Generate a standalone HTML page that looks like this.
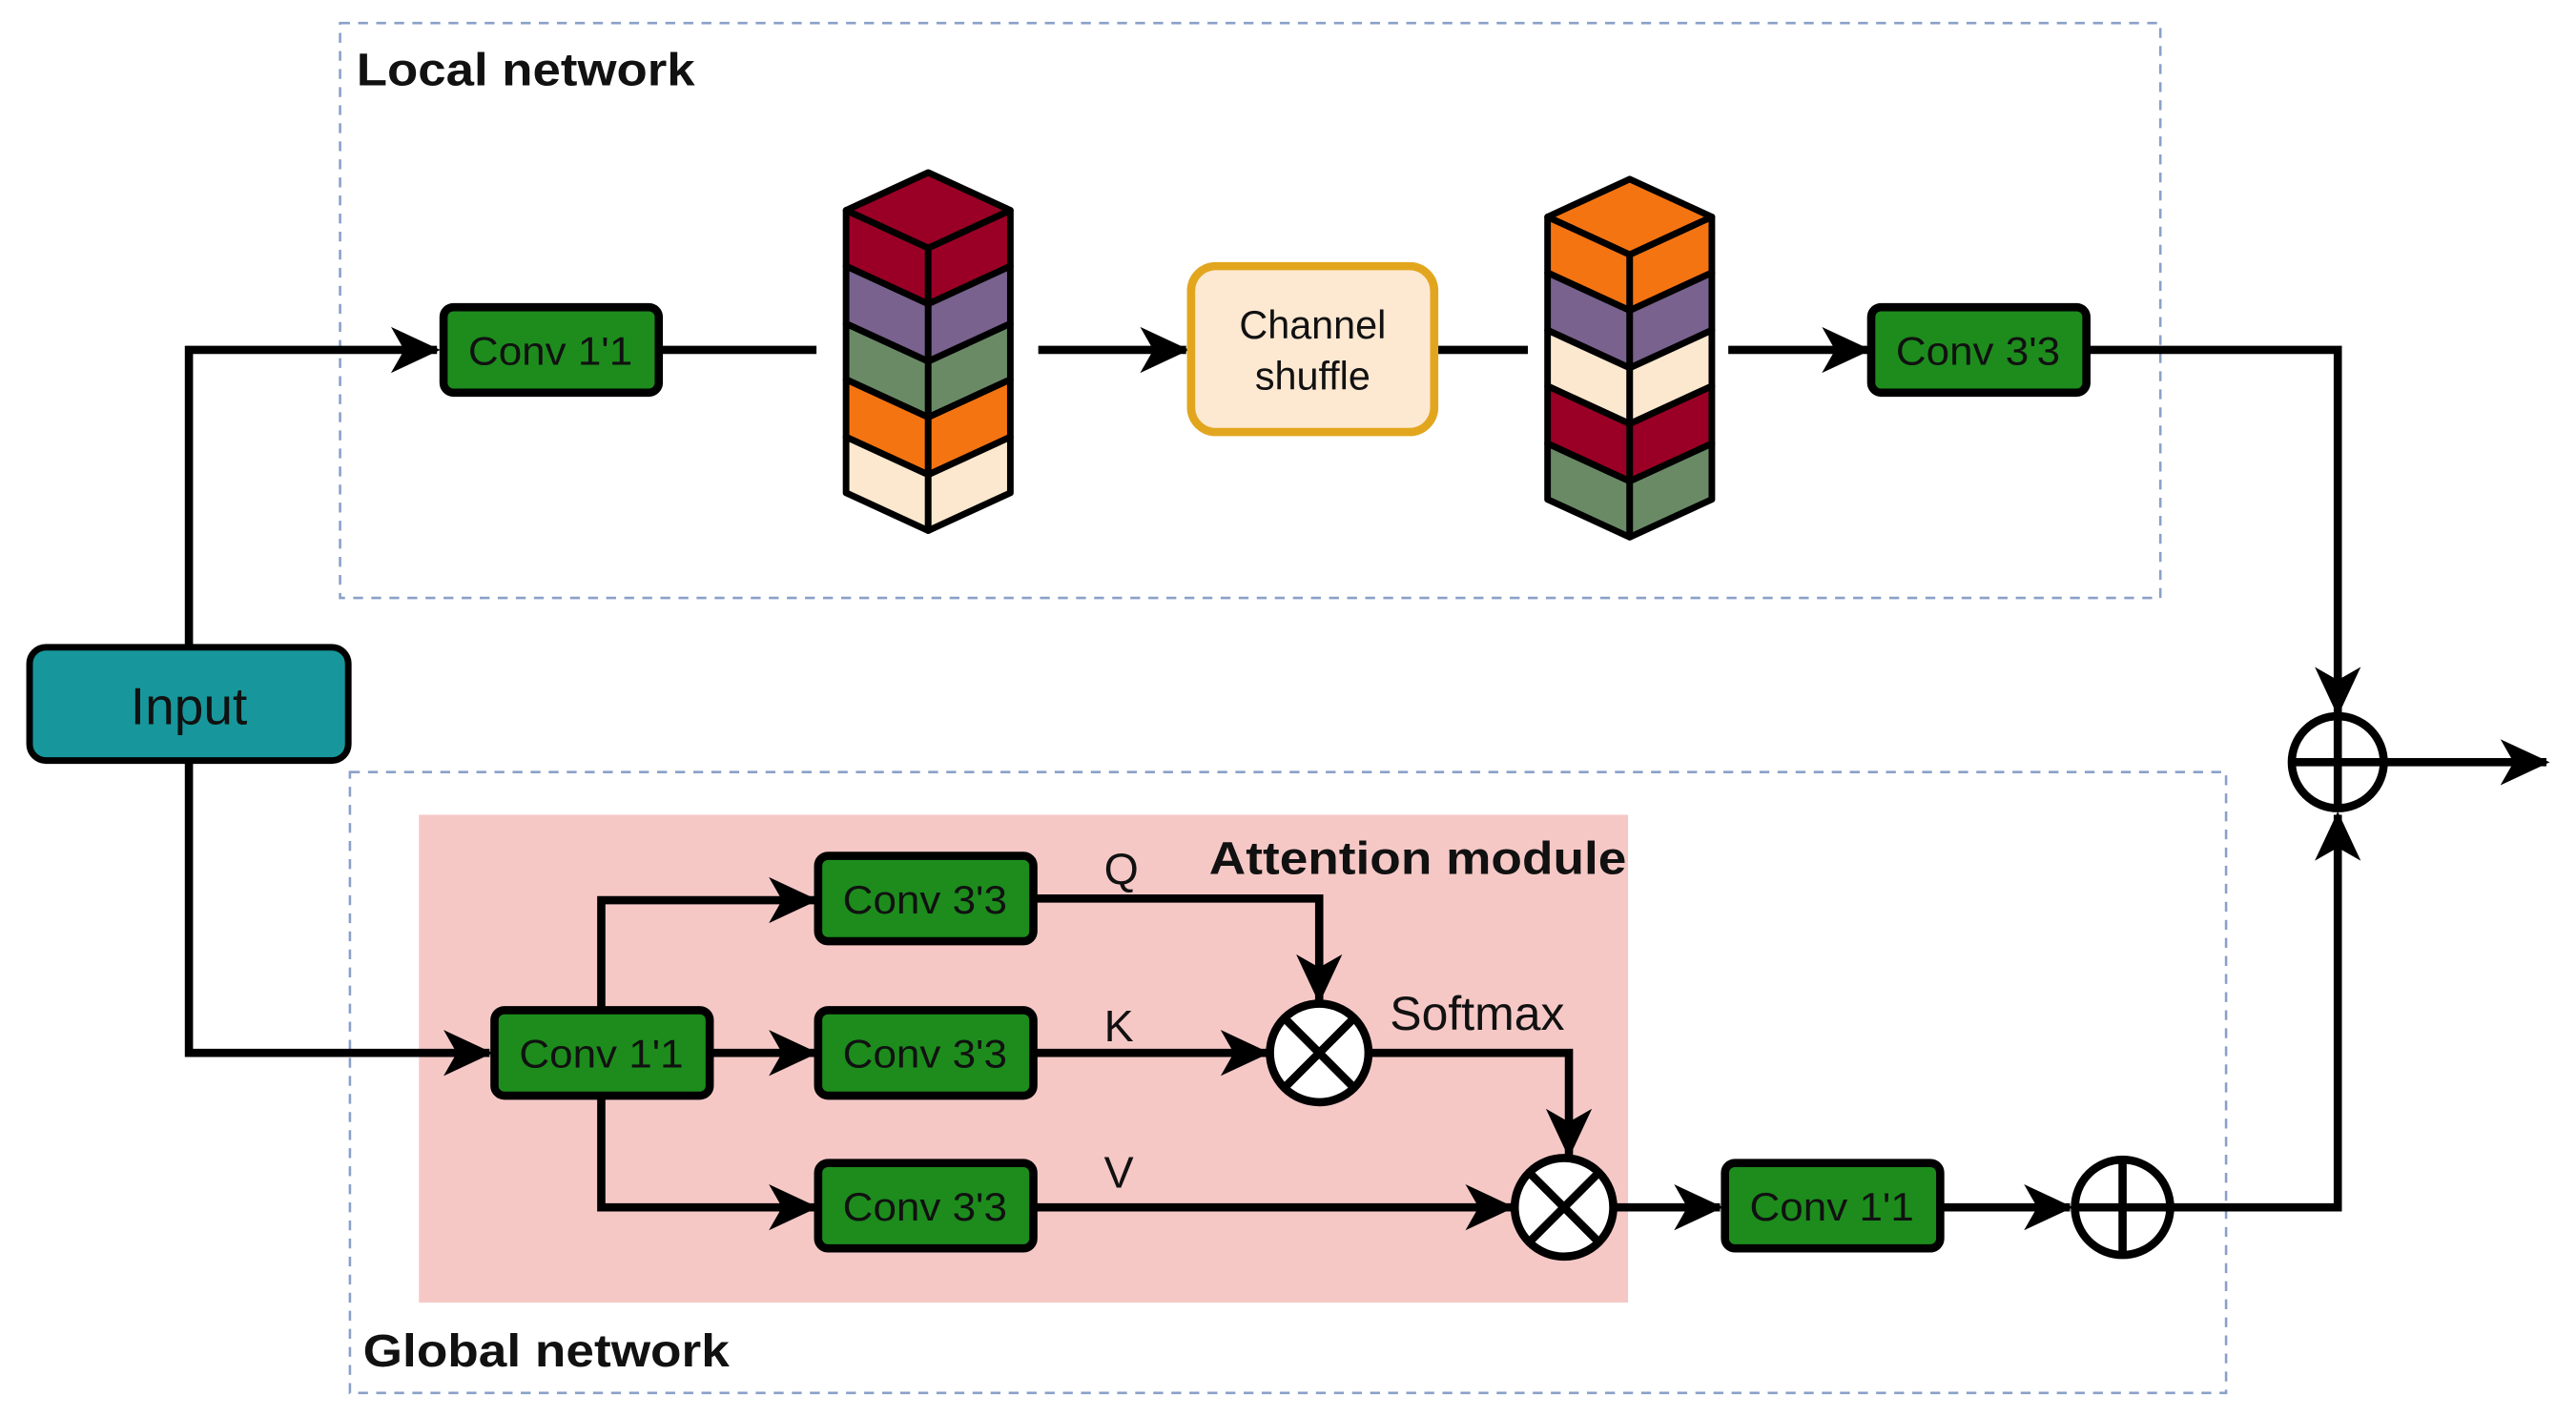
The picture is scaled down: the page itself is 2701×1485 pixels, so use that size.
<!DOCTYPE html>
<html><head><style>html,body{margin:0;padding:0;background:#fff}svg{display:block}</style></head>
<body>
<svg width="2701" height="1485" viewBox="0 0 1568 862" xmlns="http://www.w3.org/2000/svg" font-family="Liberation Sans, sans-serif">
<defs>
<marker id="a" markerUnits="userSpaceOnUse" markerWidth="30" markerHeight="30" viewBox="0 0 30 30" refX="28" refY="15" orient="auto">
<path d="M0,1 L30,15 L0,29 L8,15 z" fill="#000"/>
</marker>
</defs>
<rect x="207" y="14" width="1108" height="350" fill="none" stroke="#8aa0c8" stroke-width="1.5" stroke-dasharray="6,5"/>
<rect x="213" y="470" width="1142" height="378" fill="none" stroke="#8aa0c8" stroke-width="1.5" stroke-dasharray="6,5"/>
<rect x="255" y="496" width="736" height="297" fill="#f5c8c6"/>
<text x="217" y="52" font-size="28" font-weight="bold" fill="#111" textLength="206" lengthAdjust="spacingAndGlyphs">Local network</text>
<text x="221" y="832" font-size="28" font-weight="bold" fill="#111" textLength="223" lengthAdjust="spacingAndGlyphs">Global network</text>
<text x="736" y="532" font-size="28" font-weight="bold" fill="#111" textLength="254" lengthAdjust="spacingAndGlyphs">Attention module</text>
<g stroke="#000" stroke-width="5" fill="none">
<path d="M115,394 V213 H266" marker-end="url(#a)"/>
<path d="M401,213 H497"/>
<path d="M632,213 H722" marker-end="url(#a)"/>
<path d="M873,213 H930"/>
<path d="M1052,213 H1137" marker-end="url(#a)"/>
<path d="M1270,213 H1423 V434" marker-end="url(#a)"/>
<path d="M1452,464 H1550" marker-end="url(#a)"/>
<path d="M115,463 V641 H298" marker-end="url(#a)"/>
<path d="M366,615 V548 H496" marker-end="url(#a)"/>
<path d="M432,641 H496" marker-end="url(#a)"/>
<path d="M366,667 V735 H496" marker-end="url(#a)"/>
<path d="M629,547 H803 V609" marker-end="url(#a)"/>
<path d="M629,641 H771" marker-end="url(#a)"/>
<path d="M833,641 H955 V703" marker-end="url(#a)"/>
<path d="M629,735 H920" marker-end="url(#a)"/>
<path d="M982,735 H1047" marker-end="url(#a)"/>
<path d="M1181,735 H1260" marker-end="url(#a)"/>
<path d="M1322,735 H1423 V496" marker-end="url(#a)"/>
</g>
<rect x="18" y="394" width="194" height="69" rx="10" fill="#17979b" stroke="#000" stroke-width="4"/>
<text x="115" y="441" font-size="32" text-anchor="middle" fill="#111">Input</text>
<g stroke="#000" stroke-width="5" fill="#1d8c1d">
<rect x="270" y="187" width="131" height="52" rx="6"/>
<rect x="1139" y="187" width="131" height="52" rx="6"/>
<rect x="301" y="615" width="131" height="52" rx="6"/>
<rect x="498" y="521" width="131" height="52" rx="6"/>
<rect x="498" y="615" width="131" height="52" rx="6"/>
<rect x="498" y="708" width="131" height="52" rx="6"/>
<rect x="1050" y="708" width="131" height="52" rx="6"/>
</g>
<g font-size="24" text-anchor="middle" fill="#111">
<text x="335" y="222" textLength="100" lengthAdjust="spacingAndGlyphs">Conv 1'1</text>
<text x="1204" y="222" textLength="100" lengthAdjust="spacingAndGlyphs">Conv 3'3</text>
<text x="366" y="650" textLength="100" lengthAdjust="spacingAndGlyphs">Conv 1'1</text>
<text x="563" y="556" textLength="100" lengthAdjust="spacingAndGlyphs">Conv 3'3</text>
<text x="563" y="650" textLength="100" lengthAdjust="spacingAndGlyphs">Conv 3'3</text>
<text x="563" y="743" textLength="100" lengthAdjust="spacingAndGlyphs">Conv 3'3</text>
<text x="1115" y="743" textLength="100" lengthAdjust="spacingAndGlyphs">Conv 1'1</text>
</g>
<rect x="725" y="162" width="148" height="101" rx="15" fill="#fde8d2" stroke="#e2a61e" stroke-width="5"/>
<text x="799" y="206" font-size="24" text-anchor="middle" fill="#111">Channel</text>
<text x="799" y="237" font-size="24" text-anchor="middle" fill="#111">shuffle</text>
<g font-size="27" fill="#111">
<text x="672" y="538">Q</text>
<text x="672" y="634">K</text>
<text x="672" y="723">V</text>
<text x="846" y="627" font-size="29">Softmax</text>
</g>
<g stroke="#000" stroke-width="4" stroke-linejoin="round">
<polygon points="565,105 615,128 565,151 515,128" fill="#9a0025"/>
<polygon points="515,128 565,151 565,185 515,162" fill="#9a0025"/><polygon points="615,128 565,151 565,185 615,162" fill="#9a0025"/>
<polygon points="515,162 565,185 565,220 515,197" fill="#79628e"/><polygon points="615,162 565,185 565,220 615,197" fill="#79628e"/>
<polygon points="515,197 565,220 565,254 515,231" fill="#6a8a66"/><polygon points="615,197 565,220 565,254 615,231" fill="#6a8a66"/>
<polygon points="515,231 565,254 565,289 515,266" fill="#f57412"/><polygon points="615,231 565,254 565,289 615,266" fill="#f57412"/>
<polygon points="515,266 565,289 565,323 515,300" fill="#fbe8cf"/><polygon points="615,266 565,289 565,323 615,300" fill="#fbe8cf"/>
</g>
<g stroke="#000" stroke-width="4" stroke-linejoin="round">
<polygon points="992,109 1042,132 992,155 942,132" fill="#f57412"/>
<polygon points="942,132 992,155 992,189 942,166" fill="#f57412"/><polygon points="1042,132 992,155 992,189 1042,166" fill="#f57412"/>
<polygon points="942,166 992,189 992,224 942,201" fill="#79628e"/><polygon points="1042,166 992,189 992,224 1042,201" fill="#79628e"/>
<polygon points="942,201 992,224 992,258 942,235" fill="#fbe8cf"/><polygon points="1042,201 992,224 992,258 1042,235" fill="#fbe8cf"/>
<polygon points="942,235 992,258 992,293 942,270" fill="#9a0025"/><polygon points="1042,235 992,258 992,293 1042,270" fill="#9a0025"/>
<polygon points="942,270 992,293 992,327 942,304" fill="#6a8a66"/><polygon points="1042,270 992,293 992,327 1042,304" fill="#6a8a66"/>
</g>
<g stroke="#000" stroke-width="5" fill="#fff">
<circle cx="1423" cy="464" r="28"/>
<circle cx="1292" cy="735" r="29"/>
<circle cx="803" cy="641" r="30"/>
<circle cx="952" cy="735" r="30"/>
</g>
<g stroke="#000" stroke-width="5">
<path d="M1395,464 H1451 M1423,436 V492"/>
<path d="M1263,735 H1321 M1292,706 V764"/>
<path d="M782,620 L824,662 M824,620 L782,662"/>
<path d="M931,714 L973,756 M973,714 L931,756"/>
</g>
</svg>
</body></html>
